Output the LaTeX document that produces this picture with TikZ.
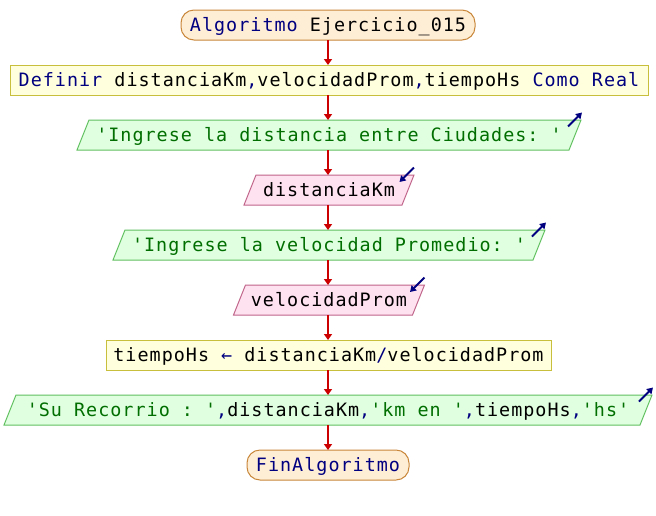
\documentclass[tikz,border=0pt]{standalone}
\usepackage{fontspec}
\setmonofont{DejaVu Sans Mono}[LetterSpace=5.5]
\usetikzlibrary{arrows.meta,backgrounds}
\definecolor{kwc}{HTML}{000080}
\definecolor{stc}{HTML}{006E00}
\definecolor{termfill}{HTML}{FFEED6}
\definecolor{termline}{HTML}{C8873A}
\definecolor{procfill}{HTML}{FFFFDD}
\definecolor{procline}{HTML}{C8C03C}
\definecolor{outfill}{HTML}{E0FFE0}
\definecolor{outline}{HTML}{60C060}
\definecolor{infill}{HTML}{FFE2F0}
\definecolor{inline}{HTML}{C0648A}
\definecolor{flowc}{HTML}{CC0000}
\newcommand\kw[1]{\textcolor{kwc}{#1}}
\newcommand\st[1]{\textcolor{stc}{#1}}
\newcommand\iopath[2]{\filldraw[#2] ([xshift=6pt]#1.north west) -- ([xshift=6pt]#1.north east) -- ([xshift=-6pt]#1.south east) -- ([xshift=-6pt]#1.south west) -- cycle;}
\begin{document}
\begin{tikzpicture}[x=1pt,y=-1pt,
  font=\ttfamily\fontsize{18.4}{22}\selectfont,
  base/.style={inner sep=0pt, outer sep=0pt, minimum height=30pt, text height=16.5pt, text depth=3pt},
  term/.style={base, draw=termline, fill=termfill, line width=1pt, rounded corners=13pt},
  proc/.style={base, draw=procline, fill=procfill, line width=1pt},
  io/.style={base},
  outsh/.style={draw=outline, fill=outfill, line width=1pt},
  insh/.style={draw=inline, fill=infill, line width=1pt},
  flow/.style={draw=flowc, line width=2pt, -{Triangle[length=6pt,width=8pt]}},
  icon/.style={draw=kwc, line width=2pt, -{Triangle[length=6pt,width=7pt]}}]
\useasboundingbox (0,0) rectangle (656,515);
\node[term, minimum width=294pt] (start) at (328,25) {\kw{Algoritmo} Ejercicio\_015};
\node[proc, minimum width=638pt] (def) at (329,80) {\kw{Definir} distanciaKm\kw{,}velocidadProm\kw{,}tiempoHs \kw{Como Real}};
\node[io, minimum width=492pt] (out1) at (329,135) {\st{'Ingrese la distancia entre Ciudades: '}};
\node[io, minimum width=158pt] (inK) at (329,190) {distanciaKm};
\node[io, minimum width=420pt] (out2) at (329,245) {\st{'Ingrese la velocidad Promedio: '}};
\node[io, minimum width=179pt] (inV) at (329,300) {velocidadProm};
\node[proc, minimum width=445pt] (asg) at (328.5,355) {tiempoHs \kw{←} distanciaKm\kw{/}velocidadProm};
\node[io, minimum width=636pt] (out3) at (328,410) {\st{'Su Recorrio : '}\kw{,}distanciaKm\kw{,}\st{'km en '}\kw{,}tiempoHs\kw{,}\st{'hs'}};
\node[term, minimum width=162pt] (end) at (328,465) {\kw{FinAlgoritmo}};
\begin{scope}[on background layer]
\fill[white] (0,0) rectangle (656,515);
\iopath{out1}{outsh}
\iopath{out2}{outsh}
\iopath{out3}{outsh}
\iopath{inK}{insh}
\iopath{inV}{insh}
\end{scope}
\foreach \a/\b in {start/def, def/out1, out1/inK, inK/out2, out2/inV, inV/asg, asg/out3, out3/end}
  \draw[flow] (\a.south -| start) -- (start |- \b.north);
\foreach \n in {out1, out2, out3}
  \draw[icon] ([xshift=-7pt, yshift=-6.5pt]\n.north east) -- ([xshift=7pt, yshift=7.5pt]\n.north east);
\foreach \n in {inK, inV}
  \draw[icon] ([xshift=6pt, yshift=7.5pt]\n.north east) -- ([xshift=-8.5pt, yshift=-7pt]\n.north east);
\end{tikzpicture}
\end{document}
